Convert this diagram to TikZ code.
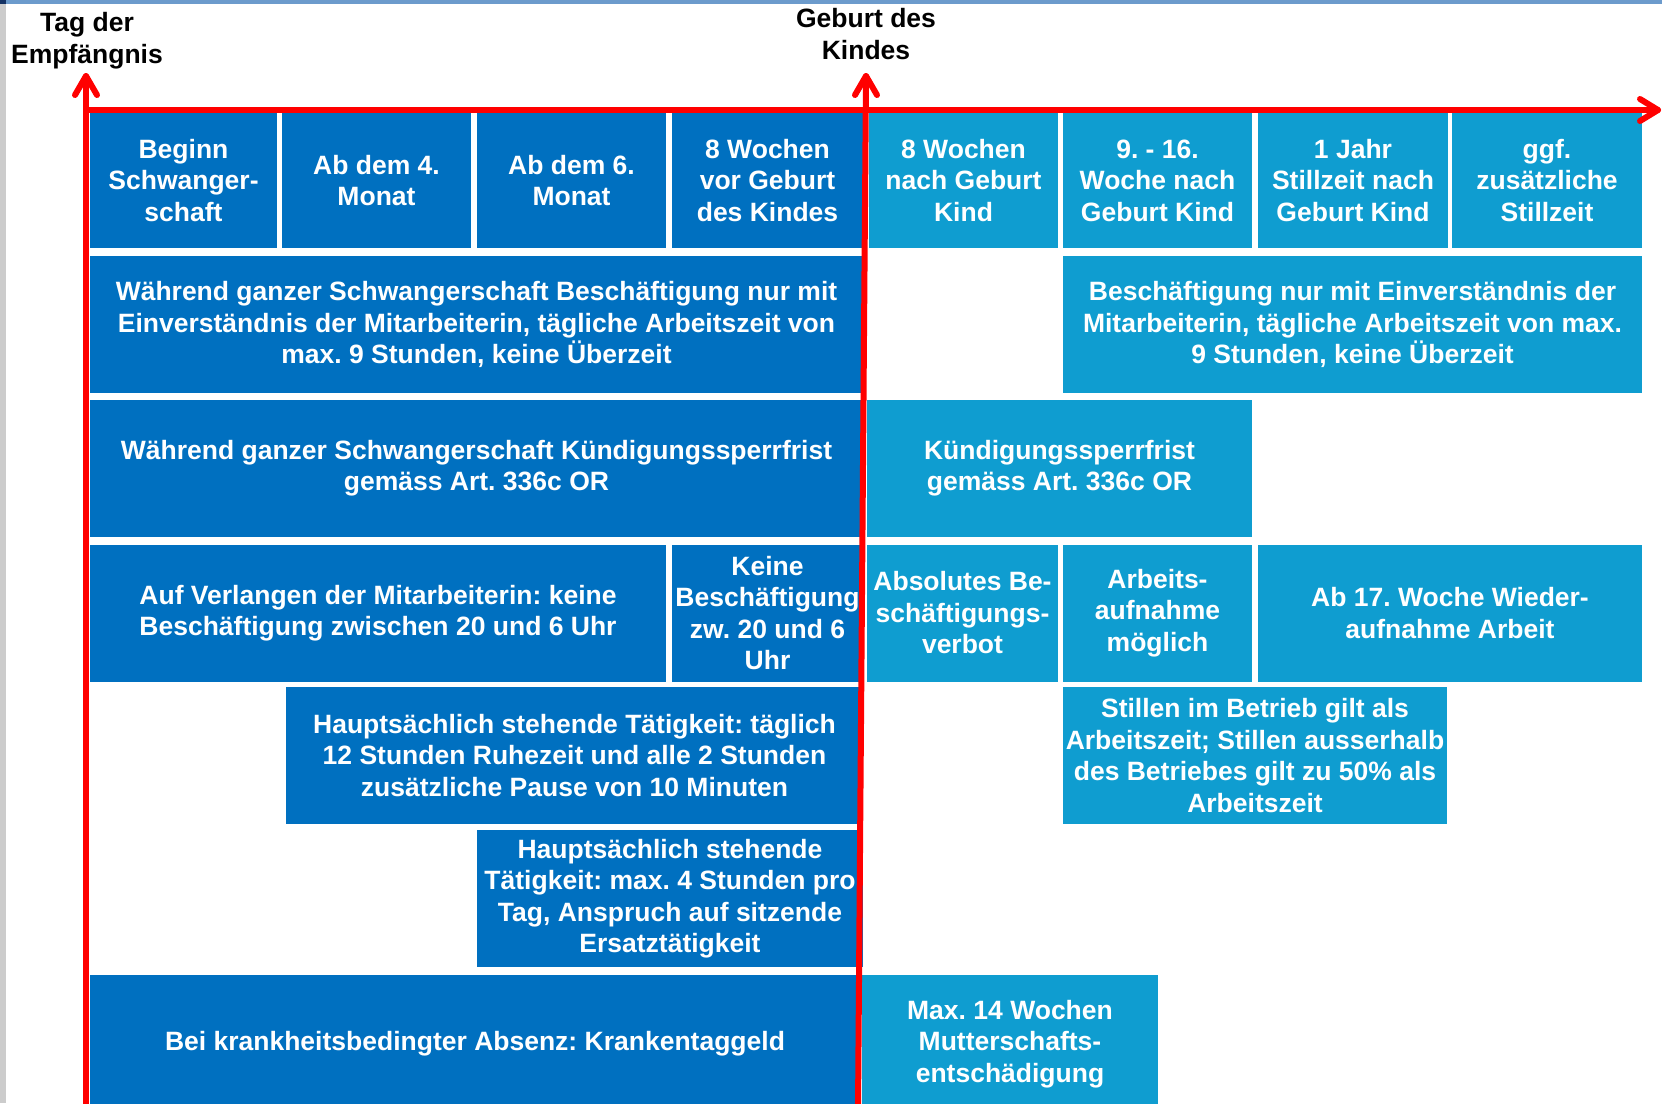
\documentclass[tikz,border=0pt]{standalone}
\usepackage{fontspec}
\setmainfont{Liberation Sans}
\usetikzlibrary{calc}
\definecolor{darkb}{RGB}{0,112,192}
\definecolor{lightb}{RGB}{15,157,208}
\definecolor{topbar}{RGB}{108,155,204}
\definecolor{leftstrip}{RGB}{204,204,204}
\definecolor{navy}{RGB}{20,50,100}
\frenchspacing
\begin{document}
\begin{tikzpicture}[x=1pt,y=-1pt,
  box/.style={inner sep=0pt, outer sep=0pt, align=center, text=white,
    font=\bfseries\fontsize{26.5}{31.5}\selectfont, anchor=center},
  dbox/.style={box, fill=darkb},
  lbox/.style={box, fill=lightb},
  sz/.style 2 args={minimum width=#1pt, minimum height=#2pt},
  lbl/.style={align=center, text=black, inner sep=0pt,
    font=\bfseries\fontsize{26.5}{32}\selectfont},
  redline/.style={draw=red, line width=6pt, line cap=round, line join=round}]
\useasboundingbox (0,0) rectangle (1662,1103);
\clip (0,0) rectangle (1662,1103);
\fill[white] (0,0) rectangle (1662,1103);
\fill[topbar] (0,0) rectangle (1662,4);
\fill[leftstrip] (0,0) rectangle (6,1103);
\fill[navy] (0,0) rectangle (6,4);

% row 1
\node[dbox, sz={187}{135}] (b11) at (183.5,180.5) {Beginn\\Schwanger-\\schaft};
\node[dbox, sz={189}{135}] (b12) at (376.5,180.5) {Ab dem 4.\\Monat};
\node[dbox, sz={189}{135}] (b13) at (571.5,180.5) {Ab dem 6.\\Monat};
\node[dbox, sz={191}{135}] (b14) at (767.5,180.5) {8 Wochen\\vor Geburt\\des Kindes};
\node[lbox, sz={189}{135}] (b15) at (963.5,180.5) {8 Wochen\\nach Geburt\\Kind};
\node[lbox, sz={189}{135}] (b16) at (1157.5,180.5) {9. - 16.\\Woche nach\\Geburt Kind};
\node[lbox, sz={190}{135}] (b17) at (1353,180.5) {1 Jahr\\Stillzeit nach\\Geburt Kind};
\node[lbox, sz={190}{135}] (b18) at (1547,180.5) {ggf.\\zusätzliche\\Stillzeit};
% row 2
\node[dbox, sz={773}{137}] (b21) at (476.5,324.5) {Während ganzer Schwangerschaft Beschäftigung nur mit\\Einverständnis der Mitarbeiterin, tägliche Arbeitszeit von\\max. 9 Stunden, keine Überzeit};
\node[lbox, sz={579}{137}] (b22) at (1352.5,324.5) {Beschäftigung nur mit Einverständnis der\\Mitarbeiterin, tägliche Arbeitszeit von max.\\9 Stunden, keine Überzeit};
% row 3
\node[dbox, sz={773}{137}] (b31) at (476.5,468) {Während ganzer Schwangerschaft Kündigungssperrfrist\\gemäss Art. 336c OR};
\node[lbox, sz={385}{137}] (b32) at (1059.5,468) {Kündigungssperrfrist\\gemäss Art. 336c OR};
% row 4
\node[dbox, sz={576}{137}] (b41) at (378,613) {Auf Verlangen der Mitarbeiterin: keine\\Beschäftigung zwischen 20 und 6 Uhr};
\node[dbox, sz={191}{137}] (b42) at (767.5,613) {Keine\\Beschäftigung\\zw. 20 und 6\\Uhr};
\node[lbox, sz={191}{137}] (b43) at (962.5,613) {Absolutes Be-\\schäftigungs-\\verbot};
\node[lbox, sz={189}{137}] (b44) at (1157.5,613) {Arbeits-\\aufnahme\\möglich};
\node[lbox, sz={384}{137}] (b45) at (1450,613) {Ab 17. Woche Wieder-\\aufnahme Arbeit};
% row 5
\node[dbox, sz={577}{137}] (b51) at (574.5,755.5) {Hauptsächlich stehende Tätigkeit: täglich\\12 Stunden Ruhezeit und alle 2 Stunden\\zusätzliche Pause von 10 Minuten};
\node[lbox, sz={384}{137}] (b52) at (1255,755.5) {Stillen im Betrieb gilt als\\Arbeitszeit; Stillen ausserhalb\\des Betriebes gilt zu 50\% als\\Arbeitszeit};
% row 6
\node[dbox, sz={386}{137}] (b61) at (670,898.5) {Hauptsächlich stehende\\Tätigkeit: max. 4 Stunden pro\\Tag, Anspruch auf sitzende\\Ersatztätigkeit};
% row 7
\node[dbox, sz={770}{138}] (b71) at (475,1044) {Bei krankheitsbedingter Absenz: Krankentaggeld};
\node[lbox, sz={296}{138}] (b72) at (1010,1044) {Max. 14 Wochen\\Mutterschafts-\\entschädigung};

% labels
\node[lbl] (conc) at (87,41) {Tag der\\Empfängnis};
\node[lbl] (birth) at (866,34) {Geburt des\\Kindes};

% axes
\coordinate (tipL) at (86,76);
\coordinate (botL) at (86,1110);
\coordinate (orig) at (86,110);
\coordinate (tipR) at (1658,110);
\coordinate (tipM) at (866,76);
\coordinate (botM) at (858,1110);
\draw[redline] (botL) -- (tipL);
\draw[redline] ($(tipL)+(-11,19)$) -- (tipL) -- ($(tipL)+(11,19)$);
\draw[redline] (orig) -- (tipR);
\draw[redline] ($(tipR)+(-18,-11)$) -- (tipR) -- ($(tipR)+(-18,11)$);
\draw[redline] (botM) -- (tipM);
\draw[redline] ($(tipM)+(-11,19)$) -- (tipM) -- ($(tipM)+(11,19)$);
\end{tikzpicture}
\end{document}
